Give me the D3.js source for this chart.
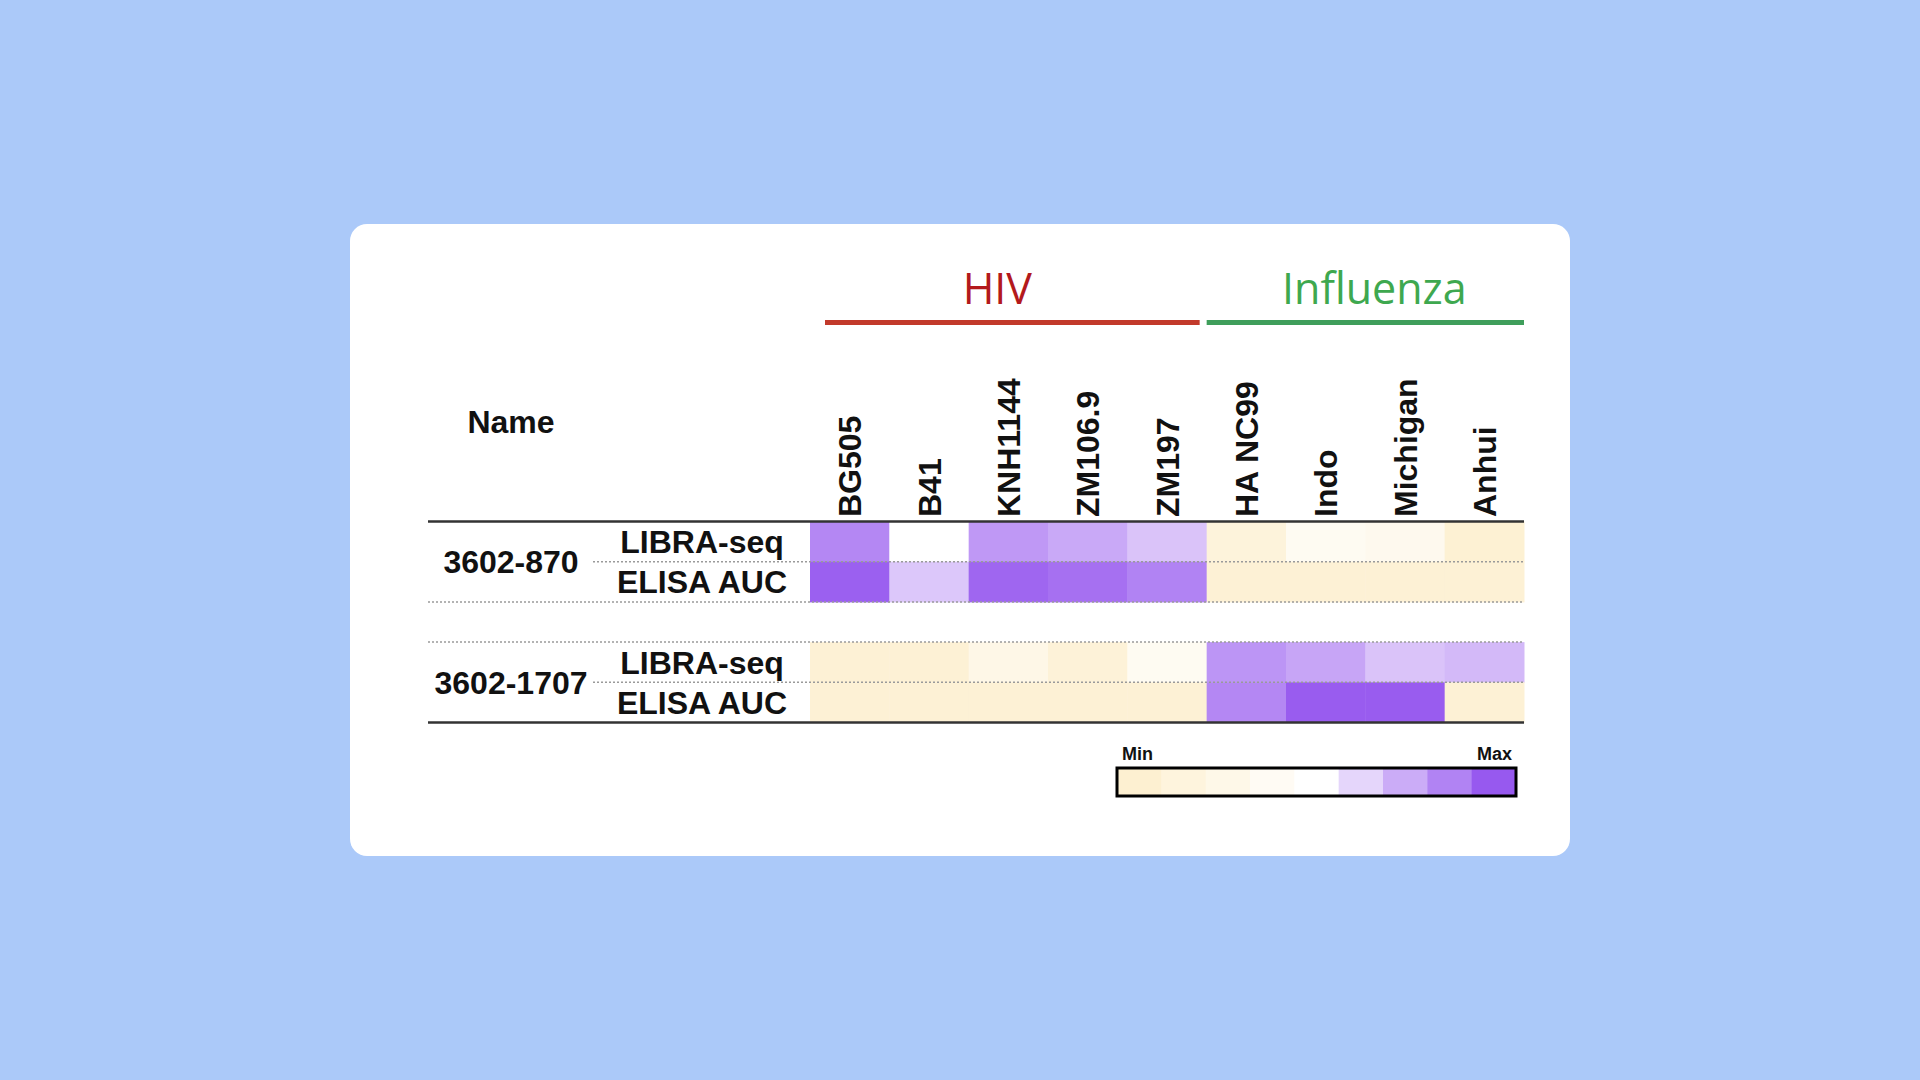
<!DOCTYPE html>
<html>
<head>
<meta charset="utf-8">
<script src="https://cdn.jsdelivr.net/npm/d3@7"></script>
<style>
  html, body { margin: 0; padding: 0; background: #abc9f9; }
  svg { display: block; }
</style>
</head>
<body>
<div id="chart"></div>
<script>
'use strict'
var width = 1920;
var height = 1080;

// antigens across the top
var antigens = ["BG505", "B41", "KNH1144", "ZM106.9", "ZM197", "HA NC99", "Indo", "Michigan", "Anhui"];
var groupNames = ["HIV", "Influenza"];
var groupFirst = ["BG505", "HA NC99"];
var groupLast = ["ZM197", "Anhui"];
var groupColors = ["#b3191c", "#3ea84f"];
var groupLineColors = ["#c23a2b", "#3f9e5b"];

var antibodies = ["3602-870", "3602-1707"];
var assays = ["LIBRA-seq", "ELISA AUC"];

// scaled scores, 0 = min, 1 = max
var libra870 = [0.86, 0.50, 0.81, 0.76, 0.68, 0.11, 0.36, 0.31, 0.02];
var elisa870 = [0.98, 0.67, 0.96, 0.93, 0.875, 0.04, 0.04, 0.04, 0.04];
var libra1707 = [0.04, 0.04, 0.24, 0.08, 0.36, 0.82, 0.77, 0.68, 0.71];
var elisa1707 = [0.04, 0.04, 0.04, 0.04, 0.04, 0.86, 0.99, 0.99, 0.04];

var legendSteps = [0, 0.125, 0.25, 0.375, 0.5, 0.625, 0.75, 0.875, 1];

var rowKeys = ["3602-870|LIBRA-seq", "3602-870|ELISA AUC", "gap", "3602-1707|LIBRA-seq", "3602-1707|ELISA AUC"];
var rowValues = {
	"3602-870|LIBRA-seq": libra870,
	"3602-870|ELISA AUC": elisa870,
	"3602-1707|LIBRA-seq": libra1707,
	"3602-1707|ELISA AUC": elisa1707
};

var cells = [];
rowKeys.forEach(function(k){
	if(!rowValues[k]) return;
	rowValues[k].forEach(function(v, i){
		cells.push({row: k, antigen: antigens[i], value: v});
	});
});

var color = d3.scaleLinear()
	.domain([0, 0.5, 1])
	.range(["#fdf0d1", "#ffffff", "#9759ef"]);

var x = d3.scaleBand().domain(antigens).range([810, 1524]);
var y = d3.scaleBand().domain(rowKeys).range([521.5, 722.5]);

var svg = d3.select("#chart")
	.append('svg')
	.attr("width", width)
	.attr("height", height);

// card
svg.append("rect")
	.attr("x", 350).attr("y", 224)
	.attr("width", 1220).attr("height", 632)
	.attr("rx", 17).attr("ry", 17)
	.attr("fill", "#ffffff");

var boldFont = "'Liberation Sans', Arial, sans-serif";

// group titles and bars
groupNames.forEach(function(g, i){
	var x0 = x(groupFirst[i]) + (i === 0 ? 15 : 0);
	var x1 = x(groupLast[i]) + x.bandwidth() - (i === 0 ? 7 : 0);
	svg.append("line")
		.attr("x1", x0).attr("x2", x1)
		.attr("y1", 322.5).attr("y2", 322.5)
		.style("stroke", groupLineColors[i])
		.style("stroke-width", 5);
	svg.append("text")
		.attr("x", (x0 + x1) / 2 + (i === 0 ? -15 : 9))
		.attr("y", 304)
		.attr("text-anchor", "middle")
		.style("font-family", "'Open Sans', sans-serif")
		.style("font-size", "43px")
		.style("fill", groupColors[i])
		.text(g);
});

// column labels
svg.append("g")
	.selectAll("text")
	.data(antigens)
	.enter()
	.append("text")
		.attr("transform", function(d){ return "translate(" + (x(d) + x.bandwidth() / 2) + ",517) rotate(-90)"; })
		.attr("dy", "0.36em")
		.style("font-family", boldFont)
		.style("font-weight", "bold")
		.style("font-size", "32px")
		.style("fill", "#111")
		.text(function(d){ return d; });

svg.append("text")
	.attr("x", 511).attr("y", 433)
	.attr("text-anchor", "middle")
	.style("font-family", boldFont)
	.style("font-weight", "bold")
	.style("font-size", "32px")
	.style("fill", "#111")
	.text("Name");

// cells
svg.append("g")
	.selectAll("rect")
	.data(cells)
	.enter()
	.append("rect")
		.attr("x", function(d){ return x(d.antigen); })
		.attr("y", function(d){ return y(d.row); })
		.attr("width", x.bandwidth() + 0.5)
		.attr("height", y.bandwidth() + 0.5)
		.attr("fill", function(d){ return color(d.value); });

// row labels
var rowLabels = svg.append("g");
antibodies.forEach(function(ab){
	assays.forEach(function(as){
		var k = ab + "|" + as;
		rowLabels.append("text")
			.attr("x", 702)
			.attr("y", y(k) + y.bandwidth() / 2)
			.attr("dy", "0.36em")
			.attr("text-anchor", "middle")
			.style("font-family", boldFont)
			.style("font-weight", "bold")
			.style("font-size", "32px")
			.style("fill", "#111")
			.text(as);
	});
	rowLabels.append("text")
		.attr("x", 511)
		.attr("y", y(ab + "|" + assays[1]))
		.attr("dy", "0.36em")
		.attr("text-anchor", "middle")
		.style("font-family", boldFont)
		.style("font-weight", "bold")
		.style("font-size", "32px")
		.style("fill", "#111")
		.text(ab);
});

// rules
var left = 428, right = 1524;
function rule(x0, yy, dotted){
	svg.append("line")
		.attr("x1", x0).attr("x2", right)
		.attr("y1", yy).attr("y2", yy)
		.style("stroke", dotted ? "#9a9a9a" : "#333")
		.style("stroke-width", dotted ? 1.5 : 2.5)
		.style("stroke-dasharray", dotted ? "2,2" : null);
}
rule(left, y(rowKeys[0]), false);
rule(593, y(rowKeys[1]), true);
rule(left, y(rowKeys[2]), true);
rule(left, y(rowKeys[3]), true);
rule(593, y(rowKeys[4]), true);
rule(left, y(rowKeys[4]) + y.bandwidth(), false);

// legend
var lx = d3.scaleBand().domain(legendSteps).range([1117, 1516]);
svg.append("g")
	.selectAll("rect")
	.data(legendSteps)
	.enter()
	.append("rect")
		.attr("x", function(d){ return lx(d); })
		.attr("y", 768)
		.attr("width", lx.bandwidth() + 0.5)
		.attr("height", 28)
		.attr("fill", function(d){ return color(d); });
svg.append("rect")
	.attr("x", 1117).attr("y", 768)
	.attr("width", 399).attr("height", 28)
	.attr("fill", "none")
	.style("stroke", "#000")
	.style("stroke-width", 3);
svg.append("text")
	.attr("x", 1122).attr("y", 760)
	.style("font-family", boldFont)
	.style("font-weight", "bold")
	.style("font-size", "18px")
	.style("fill", "#111")
	.text("Min");
svg.append("text")
	.attr("x", 1512).attr("y", 760)
	.attr("text-anchor", "end")
	.style("font-family", boldFont)
	.style("font-weight", "bold")
	.style("font-size", "18px")
	.style("fill", "#111")
	.text("Max");
</script>
</body>
</html>
